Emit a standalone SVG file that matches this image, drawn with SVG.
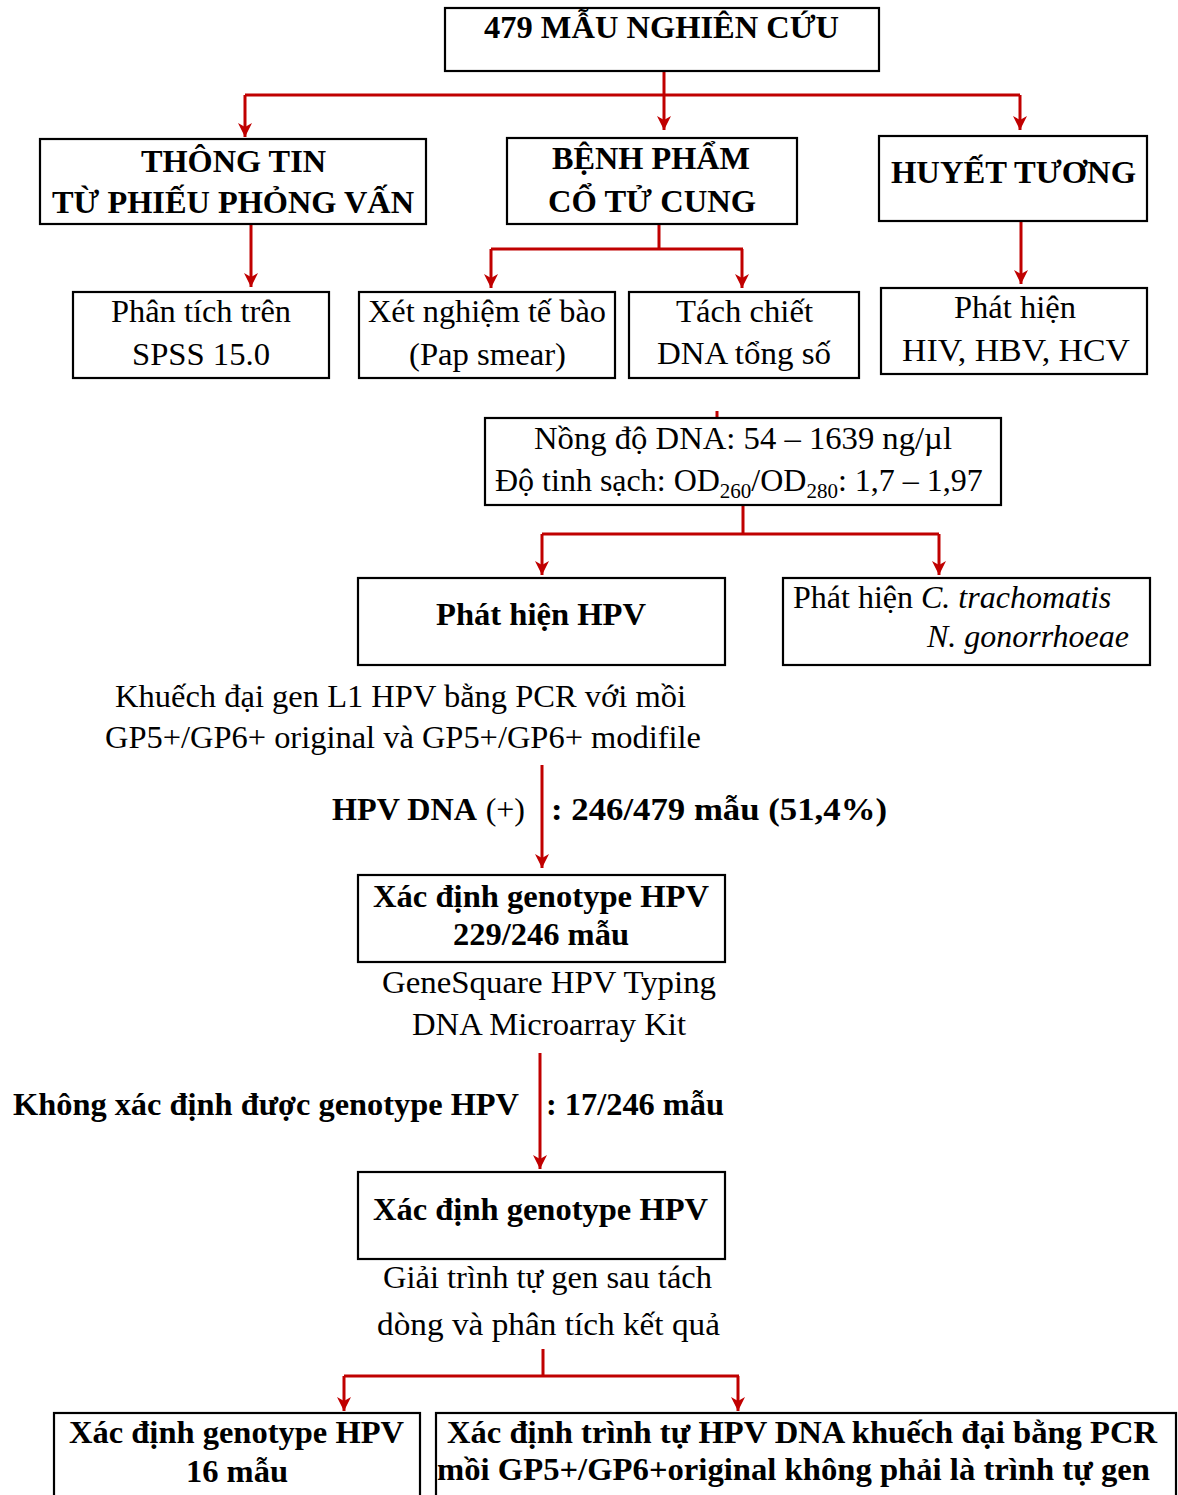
<svg xmlns="http://www.w3.org/2000/svg" width="1178" height="1495" viewBox="0 0 1178 1495">
<style>
.box{fill:#fff;stroke:#000;stroke-width:2.2}
.t{font-family:"Liberation Serif","Times New Roman",serif;font-size:32px;fill:#000}
.b{font-weight:bold}
.i{font-style:italic}
.c{fill:none;stroke:#c00000;stroke-width:3}
.ca{fill:none;stroke:#c00000;stroke-width:3;marker-end:url(#ah)}
</style>
<defs>
<marker id="ah" viewBox="0 0 14 14" refX="14" refY="7" markerWidth="14" markerHeight="14" orient="auto" markerUnits="userSpaceOnUse">
<path d="M0,0 L14,7 L0,14 L4,7 z" fill="#c00000"/>
</marker>
</defs>
<rect width="1178" height="1495" fill="#fff"/>

<g id="connectors">
<path class="c" d="M664,71 V95"/>
<path class="c" d="M245,95 H1020"/>
<path class="ca" d="M245,95 V137"/>
<path class="ca" d="M664,95 V130"/>
<path class="ca" d="M1020,95 V130"/>
<path class="ca" d="M251,224 V287"/>
<path class="c" d="M659,224 V249 M491,249 H743"/>
<path class="ca" d="M491,249 V288"/>
<path class="ca" d="M742,249 V288"/>
<path class="ca" d="M1021,221 V284"/>
<path class="c" d="M717,411 V418"/>
<path class="c" d="M743,506 V534 M542,534 H939"/>
<path class="ca" d="M542,534 V575"/>
<path class="ca" d="M939,534 V575"/>
<path class="ca" d="M542,765 V868"/>
<path class="ca" d="M540,1053 V1169"/>
<path class="c" d="M543,1349 V1376 M344,1376 H739"/>
<path class="ca" d="M344,1376 V1411"/>
<path class="ca" d="M738,1376 V1411"/>
</g>

<g id="n-root">
<rect class="box" x="445" y="8" width="434" height="63"/>
<text class="t b" x="484" y="38" textLength="355" lengthAdjust="spacingAndGlyphs">479 MẪU NGHIÊN CỨU</text>
</g>

<g id="n-thongtin">
<rect class="box" x="40" y="139" width="386" height="85"/>
<text class="t b" x="141" y="172" textLength="185" lengthAdjust="spacingAndGlyphs">THÔNG TIN</text>
<text class="t b" x="52" y="213" textLength="362" lengthAdjust="spacingAndGlyphs">TỪ PHIẾU PHỎNG VẤN</text>
</g>

<g id="n-benhpham">
<rect class="box" x="507" y="138" width="290" height="86"/>
<text class="t b" x="552" y="169" textLength="198" lengthAdjust="spacingAndGlyphs">BỆNH PHẨM</text>
<text class="t b" x="548" y="212" textLength="208" lengthAdjust="spacingAndGlyphs">CỔ TỬ CUNG</text>
</g>

<g id="n-huyettuong">
<rect class="box" x="879" y="136" width="268" height="85"/>
<text class="t b" x="891" y="183" textLength="245" lengthAdjust="spacingAndGlyphs">HUYẾT TƯƠNG</text>
</g>

<g id="n-spss">
<rect class="box" x="73" y="292" width="256" height="86"/>
<text class="t" x="111" y="322" textLength="180" lengthAdjust="spacingAndGlyphs">Phân tích trên</text>
<text class="t" x="132" y="365" textLength="138" lengthAdjust="spacingAndGlyphs">SPSS 15.0</text>
</g>

<g id="n-pap">
<rect class="box" x="359" y="292" width="256" height="86"/>
<text class="t" x="368" y="322" textLength="238" lengthAdjust="spacingAndGlyphs">Xét nghiệm tế bào</text>
<text class="t" x="409" y="365" textLength="157" lengthAdjust="spacingAndGlyphs">(Pap smear)</text>
</g>

<g id="n-tachchiet">
<rect class="box" x="629" y="292" width="230" height="86"/>
<text class="t" x="676" y="322" textLength="137" lengthAdjust="spacingAndGlyphs">Tách chiết</text>
<text class="t" x="657" y="364" textLength="174" lengthAdjust="spacingAndGlyphs">DNA tổng số</text>
</g>

<g id="n-hiv">
<rect class="box" x="881" y="288" width="266" height="86"/>
<text class="t" x="954" y="318" textLength="122" lengthAdjust="spacingAndGlyphs">Phát hiện</text>
<text class="t" x="902" y="361" textLength="228" lengthAdjust="spacingAndGlyphs">HIV, HBV, HCV</text>
</g>

<g id="n-nongdo">
<rect class="box" x="485" y="418" width="516" height="87"/>
<text class="t" x="534" y="449" textLength="418" lengthAdjust="spacingAndGlyphs">Nồng độ DNA: 54 – 1639 ng/µl</text>
<text class="t" x="495" y="491">Độ tinh sạch: OD<tspan font-size="21" dy="7">260</tspan><tspan dy="-7">/OD</tspan><tspan font-size="21" dy="7">280</tspan><tspan dy="-7">: 1,7 – 1,97</tspan></text>
</g>

<g id="n-hpv">
<rect class="box" x="358" y="578" width="367" height="87"/>
<text class="t b" x="436" y="625" textLength="210" lengthAdjust="spacingAndGlyphs">Phát hiện HPV</text>
</g>

<g id="n-ct">
<rect class="box" x="783" y="578" width="367" height="87"/>
<text class="t" x="793" y="608">Phát hiện <tspan class="i">C. trachomatis</tspan></text>
<text class="t i" x="1129" y="647" text-anchor="end">N. gonorrhoeae</text>
</g>

<g id="lbl-pcr">
<text class="t" x="115" y="707" textLength="571" lengthAdjust="spacingAndGlyphs">Khuếch đại gen L1 HPV bằng PCR với mồi</text>
<text class="t" x="105" y="748" textLength="596" lengthAdjust="spacingAndGlyphs">GP5+/GP6+ original và GP5+/GP6+ modifile</text>
</g>

<g id="lbl-hpvpos">
<text class="t b" x="332" y="820" textLength="145" lengthAdjust="spacingAndGlyphs">HPV DNA</text>
<text class="t" x="525" y="820" text-anchor="end">(+)</text>
<text class="t b" x="551" y="820" textLength="336" lengthAdjust="spacingAndGlyphs">: 246/479 mẫu (51,4%)</text>
</g>

<g id="n-geno1">
<rect class="box" x="358" y="875" width="367" height="87"/>
<text class="t b" x="373" y="907" textLength="336" lengthAdjust="spacingAndGlyphs">Xác định genotype HPV</text>
<text class="t b" x="453" y="945" textLength="176" lengthAdjust="spacingAndGlyphs">229/246 mẫu</text>
</g>

<g id="lbl-kit">
<text class="t" x="382" y="993" textLength="334" lengthAdjust="spacingAndGlyphs">GeneSquare HPV Typing</text>
<text class="t" x="412" y="1035" textLength="274" lengthAdjust="spacingAndGlyphs">DNA Microarray Kit</text>
</g>

<g id="lbl-unknown">
<text class="t b" x="13" y="1115" textLength="506" lengthAdjust="spacingAndGlyphs">Không xác định được genotype HPV</text>
<text class="t b" x="546" y="1115" textLength="178" lengthAdjust="spacingAndGlyphs">: 17/246 mẫu</text>
</g>

<g id="n-geno2">
<rect class="box" x="358" y="1172" width="367" height="87"/>
<text class="t b" x="373" y="1220" textLength="335" lengthAdjust="spacingAndGlyphs">Xác định genotype HPV</text>
</g>

<g id="lbl-seq">
<text class="t" x="383" y="1288" textLength="329" lengthAdjust="spacingAndGlyphs">Giải trình tự gen sau tách</text>
<text class="t" x="377" y="1335" textLength="343" lengthAdjust="spacingAndGlyphs">dòng và phân tích kết quả</text>
</g>

<g id="n-geno16">
<rect class="box" x="54" y="1413" width="366" height="100"/>
<text class="t b" x="69" y="1443" textLength="335" lengthAdjust="spacingAndGlyphs">Xác định genotype HPV</text>
<text class="t b" x="186" y="1482" textLength="102" lengthAdjust="spacingAndGlyphs">16 mẫu</text>
</g>

<g id="n-seqres">
<rect class="box" x="436" y="1413" width="740" height="100"/>
<text class="t b" x="447" y="1443" textLength="710" lengthAdjust="spacingAndGlyphs">Xác định trình tự HPV DNA khuếch đại bằng PCR</text>
<text class="t b" x="437" y="1480" textLength="713" lengthAdjust="spacingAndGlyphs">mồi GP5+/GP6+original không phải là trình tự gen</text>
</g>
</svg>
